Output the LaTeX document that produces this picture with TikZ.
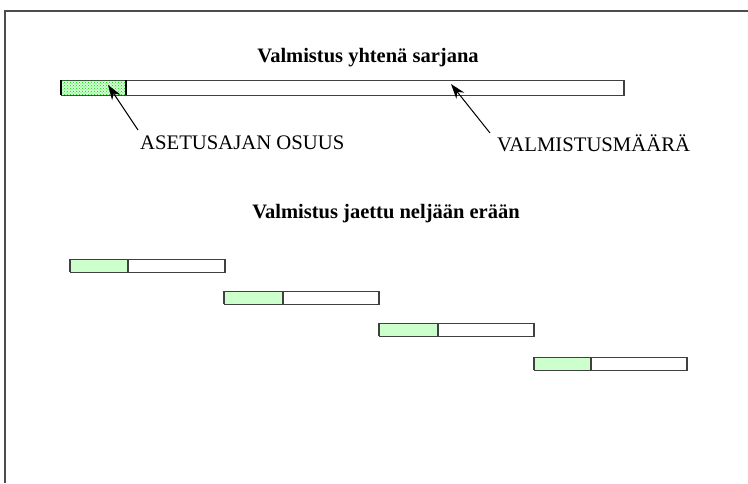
\documentclass[tikz,border=0pt]{standalone}
\usepackage{fontspec}
\setmainfont{Liberation Serif}
\usetikzlibrary{patterns,arrows.meta}
\definecolor{setup}{HTML}{CCFFCC}
\definecolor{edgegray}{HTML}{404040}
\begin{document}
\begin{tikzpicture}[x=1pt,y=-1pt,
  seg/.style={draw=edgegray, line width=0.8pt, minimum height=13pt, inner sep=0pt, outer sep=0pt, anchor=north west},
  setupseg/.style={seg, fill=setup},
  runseg/.style={seg, fill=white},
  endmark/.style={line width=2pt, draw=edgegray},
  title/.style={font=\bfseries\fontsize{20.5}{24}\selectfont, inner sep=0pt},
  lbl/.style={font=\fontsize{20.7}{24}\selectfont, anchor=west, inner sep=0pt},
  pointer/.style={-{Stealth[length=15pt,width=10pt]}, line width=1pt}
]
\useasboundingbox (0,0) rectangle (748,483);
\fill[white] (0,0) rectangle (748,483);
% frame
\draw[gray!60!black, line width=1.6pt] (5,483) -- (5,11) -- (748,11);

% single batch
\node[title] (t1) at (368,58) {Valmistus yhtenä sarjana};
\node[seg, minimum width=65pt, minimum height=15pt, fill=green!18] (s0) at (61,80) {};
\fill[pattern=crosshatch dots, pattern color=green!85!black] (s0.north west) rectangle (s0.south east);
\node[runseg, minimum width=498pt, minimum height=15pt] (r0) at (126,80) {};
\draw[line width=2.2pt, black] (s0.north west) -- (s0.south west);
\draw[line width=2.2pt, black] (s0.north east) -- (s0.south east);
\draw[endmark] (r0.north east) -- (r0.south east);

\node[lbl] (l1) at (140,143) {ASETUSAJAN OSUUS};
\node[lbl] (l2) at (497,143) {VALMISTUSMÄÄRÄ};
\coordinate (a1s) at (138,130);
\coordinate (a1e) at (108,85);
\coordinate (a2s) at (490,133);
\coordinate (a2e) at (451,84);
\draw[pointer] (a1s) -- (a1e);
\draw[pointer] (a2s) -- (a2e);

% four batches
\node[title] (t2) at (386,214) {Valmistus jaettu neljään erään};

\node[setupseg, minimum width=58pt] (s1) at (70,259) {};
\node[runseg, minimum width=97pt] (r1) at (128,259) {};
\node[setupseg, minimum width=59pt] (s2) at (224,291) {};
\node[runseg, minimum width=96pt] (r2) at (283,291) {};
\node[setupseg, minimum width=59pt] (s3) at (379,323) {};
\node[runseg, minimum width=96pt] (r3) at (438,323) {};
\node[setupseg, minimum width=57pt] (s4) at (534,357) {};
\node[runseg, minimum width=96pt] (r4) at (591,357) {};

\foreach \b in {1,2,3,4}{
  \draw[endmark] (s\b.north west) -- (s\b.south west);
  \draw[endmark] (s\b.north east) -- (s\b.south east);
  \draw[endmark] (r\b.north east) -- (r\b.south east);
}
\end{tikzpicture}
\end{document}
